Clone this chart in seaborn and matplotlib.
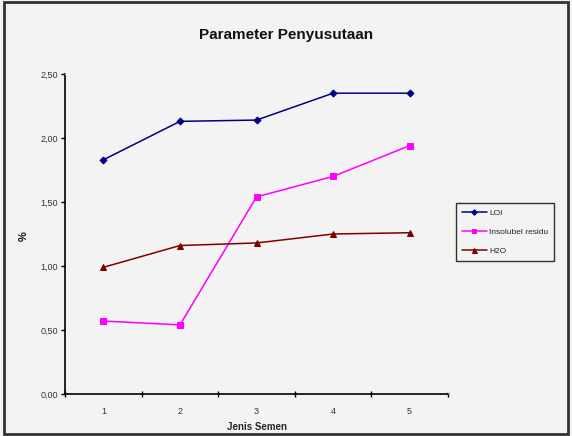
import matplotlib
matplotlib.use("Agg")
import matplotlib.pyplot as plt
import seaborn as sns
import pandas as pd
from matplotlib.patches import Rectangle
from matplotlib.ticker import FixedLocator, NullFormatter, FixedFormatter

categories = [1, 2, 3, 4, 5]
loi = [1.83, 2.13, 2.14, 2.35, 2.35]
insolubel = [0.57, 0.54, 1.54, 1.70, 1.94]
h2o = [0.99, 1.16, 1.18, 1.25, 1.26]
series_names = ["LOI", "Insolubel residu", "H2O"]
y_ticks = [0.0, 0.5, 1.0, 1.5, 2.0, 2.5]
y_labels = ["0,00", "0,50", "1,00", "1,50", "2,00", "2,50"]

sns.set_style("white")
plt.rcParams['font.family'] = ['Liberation Sans', 'DejaVu Sans']

bg = "#f3f3f3"
fig = plt.figure(figsize=(5.72, 4.36), dpi=100, facecolor=bg)
ax = fig.add_axes([0.114, 0.0963, 0.669, 0.734])
ax.set_facecolor(bg)

colors = ["#000080", "#ff00ff", "#800000"]
markers = ["D", "s", "^"]
msizes = [3.5, 4, 4.5]
for vals, name, c, m, ms in zip([loi, insolubel, h2o], series_names, colors, markers, msizes):
    sns.lineplot(x=categories, y=vals, ax=ax, color=c, marker=m, markersize=ms,
                 markeredgecolor=c, linewidth=1.1, label=name)

ax.set_xlim(0.5, 5.5)
ax.set_ylim(0, 2.5)
ax.xaxis.set_major_locator(FixedLocator([0.5, 1.5, 2.5, 3.5, 4.5, 5.5]))
ax.xaxis.set_major_formatter(NullFormatter())
ax.xaxis.set_minor_locator(FixedLocator(categories))
ax.xaxis.set_minor_formatter(FixedFormatter([str(c) for c in categories]))
ax.tick_params(axis="x", which="major", bottom=True, direction="inout", length=5, width=1, colors="black")
ax.tick_params(axis="x", which="minor", bottom=True, length=0, labelsize=6.5, pad=9, labelcolor="#333333")
ax.set_yticks(y_ticks)
ax.set_yticklabels(y_labels)
ax.tick_params(axis="y", left=True, direction="out", length=3, width=1, color="black",
               labelsize=6.5, labelcolor="#333333", pad=2)

for s in ["top", "right"]:
    ax.spines[s].set_color("#f5f5dc")
    ax.spines[s].set_linewidth(0.8)
for s in ["left", "bottom"]:
    ax.spines[s].set_color("black")
    ax.spines[s].set_linewidth(1.2)

ax.set_xlabel("Jenis Semen", fontsize=7, fontweight="bold", labelpad=5)
ax.set_ylabel("")
fig.text(24/572, 1 - 236/436, "%", rotation=90, ha="center", va="center",
         fontsize=8, fontweight="bold", color="#111111")
fig.text(0.5, 1 - 35/436, "Parameter Penyusutaan", ha="center", va="center",
         fontsize=11, fontweight="bold", color="#111111")

leg = ax.legend(loc="upper left", bbox_to_anchor=(456/572, 1 - 203/436),
                bbox_transform=fig.transFigure, frameon=True, fancybox=False,
                fontsize=6, handlelength=3, borderpad=0.7, labelspacing=1.35,
                handletextpad=0.3, borderaxespad=0, markerscale=0.8)
leg.get_frame().set_edgecolor("black")
leg.get_frame().set_linewidth(1.0)
leg.get_frame().set_facecolor(bg)

fig.patches.append(Rectangle((0.007, 0.005), 0.986, 0.99, transform=fig.transFigure,
                             fill=False, edgecolor="#333333", linewidth=2))

fig.savefig("out.png", dpi=100, facecolor=bg)
